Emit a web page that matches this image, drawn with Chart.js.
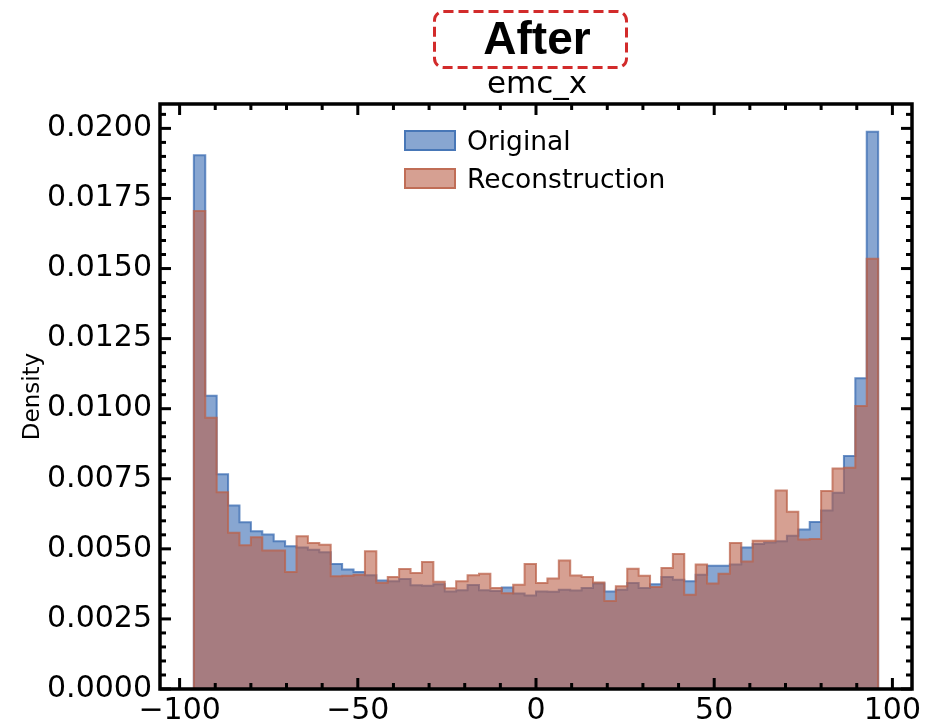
<!DOCTYPE html>
<html lang="en">
<head>
<meta charset="UTF-8">
<title>emc_x - After</title>
<script src="https://cdn.jsdelivr.net/npm/chart.js"></script>
<style>
  body { margin: 0; background: #fff; font-family: 'DejaVu Sans', sans-serif; }
  #wrap { position: relative; width: 934px; height: 722px; overflow: hidden; }
  #wrap canvas { position: absolute; left: 0; top: 0; }
  /* header: boxed "After" plus the variable name */
  #head { position: absolute; left: 0; top: 0; }
  .legend-item { position: absolute; left: 404px; height: 30px; display: flex; align-items: center;
                 font-size: 26.5px; color: #000; white-space: nowrap; }
  .patch { display: inline-block; width: 48px; height: 17px; margin-right: 11px; border-width: 2px; border-style: solid; }
  .patch.orig { background: rgba(57,107,178,0.6); border-color: rgba(57,107,178,0.8); }
  .patch.reco { background: rgba(187,97,73,0.6); border-color: rgba(187,97,73,0.8); }
</style>
</head>
<body>
<div id="wrap">
  <canvas id="histChart" width="934" height="722"></canvas>
  <svg id="head" width="934" height="105">
    <rect x="434.5" y="11.5" width="192" height="56" rx="9" ry="9" fill="none"
          stroke="#d22b2b" stroke-width="3" stroke-dasharray="10 5"></rect>
    <text x="537" y="54" text-anchor="middle" font-family="Liberation Sans, Arial, sans-serif"
          font-weight="bold" font-size="46" fill="#000">After</text>
    <text x="537" y="93" text-anchor="middle" font-family="DejaVu Sans, sans-serif"
          font-size="31" fill="#000">emc_x</text>
  </svg>
  <div class="legend-item" style="top:125px"><span class="patch orig"></span>Original</div>
  <div class="legend-item" style="top:163px"><span class="patch reco"></span>Reconstruction</div>
</div>

<script>
// histogram bins: 60 bins of width 3.2 starting at -96
const binStart = -96;
const binWidth = 3.2;

// density per bin
const original = [
  0.01904, 0.01046, 0.00766, 0.00655, 0.00595, 0.00563, 0.00551, 0.00527, 0.00509, 0.00505,
  0.00497, 0.00488, 0.00446, 0.00426, 0.00417, 0.00406, 0.00387, 0.00384, 0.00392, 0.00370,
  0.00368, 0.00374, 0.00348, 0.00352, 0.00371, 0.00352, 0.00350, 0.00362, 0.00341, 0.00334,
  0.00348, 0.00347, 0.00354, 0.00351, 0.00360, 0.00376, 0.00348, 0.00354, 0.00378, 0.00360,
  0.00374, 0.00400, 0.00390, 0.00384, 0.00408, 0.00440, 0.00440, 0.00444, 0.00505, 0.00517,
  0.00523, 0.00527, 0.00547, 0.00569, 0.00596, 0.00637, 0.00700, 0.00831, 0.01109, 0.01988
];
const reconstruction = [
  0.01705, 0.00968, 0.00702, 0.00557, 0.00513, 0.00541, 0.00494, 0.00494, 0.00417, 0.00545,
  0.00521, 0.00515, 0.00402, 0.00404, 0.00408, 0.00491, 0.00379, 0.00400, 0.00428, 0.00414,
  0.00453, 0.00383, 0.00359, 0.00384, 0.00406, 0.00411, 0.00360, 0.00342, 0.00372, 0.00446,
  0.00378, 0.00394, 0.00458, 0.00405, 0.00400, 0.00380, 0.00314, 0.00367, 0.00429, 0.00404,
  0.00364, 0.00432, 0.00482, 0.00336, 0.00444, 0.00376, 0.00411, 0.00521, 0.00455, 0.00529,
  0.00529, 0.00708, 0.00632, 0.00533, 0.00535, 0.00706, 0.00787, 0.00789, 0.01010, 0.01535
];

const xTickValues = [-100, -50, 0, 50, 100];
const yTickValues = [0, 0.0025, 0.005, 0.0075, 0.01, 0.0125, 0.015, 0.0175, 0.02];
const xMinorStep = 10;
const yMinorStep = 0.0005;

// turn bin heights into a closed step outline (like histtype='stepfilled')
function stepPoints(values) {
  const end = binStart + values.length * binWidth;
  const pts = [{ x: binStart, y: 0 }];
  values.forEach((v, i) => pts.push({ x: binStart + i * binWidth, y: v }));
  pts.push({ x: end, y: values[values.length - 1] });
  pts.push({ x: end, y: 0 });
  return pts;
}

// box frame with inward ticks on all four sides
const frameTicks = {
  id: 'frameTicks',
  afterDraw(chart) {
    const { ctx, chartArea: a, scales: { x, y } } = chart;
    const line = (x1, y1, x2, y2) => { ctx.beginPath(); ctx.moveTo(x1, y1); ctx.lineTo(x2, y2); ctx.stroke(); };
    ctx.save();
    ctx.strokeStyle = '#000';
    ctx.lineWidth = 3;
    for (let v = xTickValues[0]; v <= xTickValues[xTickValues.length - 1]; v += xMinorStep) {
      const px = x.getPixelForValue(v);
      const len = xTickValues.includes(v) ? 11 : 6;
      line(px, a.bottom, px, a.bottom - len);
      line(px, a.top, px, a.top + len);
    }
    for (let i = 0; i * yMinorStep <= y.max; i++) {
      const py = y.getPixelForValue(i * yMinorStep);
      const len = i % 5 === 0 ? 11 : 6;
      line(a.left, py, a.left + len, py);
      line(a.right, py, a.right - len, py);
    }
    ctx.lineWidth = 3.5;
    ctx.strokeRect(a.left, a.top, a.right - a.left, a.bottom - a.top);
    ctx.restore();
  }
};

const tickFont = { family: 'DejaVu Sans', size: 30 };

new Chart(document.getElementById('histChart'), {
  type: 'line',
  data: {
    datasets: [
      {
        label: 'Reconstruction',
        data: stepPoints(reconstruction),
        stepped: true,
        fill: 'origin',
        backgroundColor: 'rgba(187,97,73,0.6)',
        borderColor: 'rgba(187,97,73,0.75)',
        borderWidth: 2,
        order: 0
      },
      {
        label: 'Original',
        data: stepPoints(original),
        stepped: true,
        fill: 'origin',
        backgroundColor: 'rgba(57,107,178,0.6)',
        borderColor: 'rgba(57,107,178,0.75)',
        borderWidth: 2,
        order: 1
      }
    ]
  },
  options: {
    responsive: false,
    animation: false,
    layout: { padding: { top: 104, right: 22, left: 0, bottom: 0 } },
    elements: { point: { radius: 0 }, line: { tension: 0 } },
    plugins: { legend: { display: false }, tooltip: { enabled: false } },
    scales: {
      x: {
        type: 'linear',
        min: -105.5,
        max: 105.5,
        grid: { display: false, drawTicks: false },
        border: { display: false },
        afterBuildTicks: s => { s.ticks = xTickValues.map(v => ({ value: v })); },
        afterFit: s => { s.height = 33; },
        ticks: {
          font: tickFont, color: '#000', padding: 4, maxRotation: 0, autoSkip: false,
          callback: v => String(v).replace('-', '\u2212')
        }
      },
      y: {
        type: 'linear',
        min: 0,
        max: 0.02087,
        grid: { display: false, drawTicks: false },
        border: { display: false },
        afterBuildTicks: s => { s.ticks = yTickValues.map(v => ({ value: v })); },
        afterFit: s => { s.width = 160; },
        ticks: {
          font: tickFont, color: '#000', padding: 8, autoSkip: false,
          callback: v => Number(v).toFixed(4)
        },
        title: {
          display: true, text: 'Density', color: '#000',
          font: { family: 'DejaVu Sans', size: 23 },
          padding: { top: 19, bottom: 0 }
        }
      }
    }
  },
  plugins: [frameTicks]
});
</script>
</body>
</html>
